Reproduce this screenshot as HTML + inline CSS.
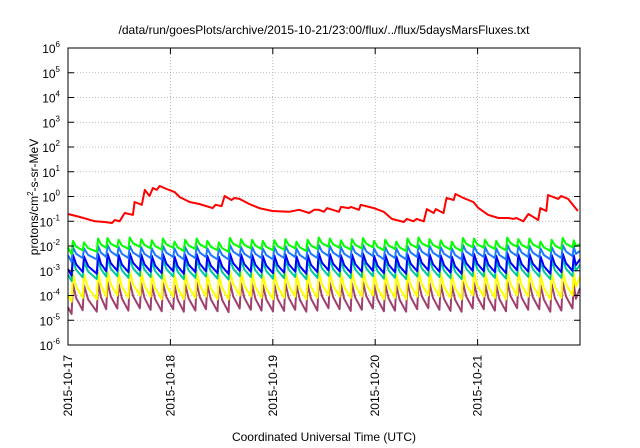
<!DOCTYPE html>
<html><head><meta charset="utf-8"><style>
body{margin:0;background:#fff;}
svg{display:block;font-family:"Liberation Sans",sans-serif;}
</style></head><body>
<svg id="chart" width="640" height="448" viewBox="0 0 640 448" xmlns="http://www.w3.org/2000/svg">
<rect width="640" height="448" fill="#fff"/>
<text x="324" y="34" font-size="12" text-anchor="middle">/data/run/goesPlots/archive/2015-10-21/23:00/flux/../flux/5daysMarsFluxes.txt</text>
<g id="grid"></g>
<g id="series"></g>
<rect x="68" y="48" width="512" height="297" fill="none" stroke="#000" stroke-width="1"/>
<g id="axes"></g>
<text transform="translate(38,197) rotate(-90)" font-size="12" text-anchor="middle">protons/cm<tspan font-size="8" dy="-5">2</tspan><tspan dy="5">-s-sr-MeV</tspan></text>
<text x="324" y="441" font-size="12" text-anchor="middle">Coordinated Universal Time (UTC)</text>
</svg>
<script>
const dayLabels=["2015-10-17","2015-10-18","2015-10-19","2015-10-20","2015-10-21"];
const yExponents=[-6,-5,-4,-3,-2,-1,0,1,2,3,4,5,6];
const redHours=[0,2.8,6.3,8.6,10.3,11,12.1,13.3,15.2,15.6,17.3,18,19.1,19.9,20.8,21.5,23.1,25,26.2,28.5,30.8,33.9,34.6,36,36.7,38.3,39,40.2,42.5,44.8,47.9,51.8,54.2,56.5,57.7,58.8,60,60.7,63.5,64,65.8,66.3,68.2,68.6,70.5,71.7,74,75.9,78.7,79.4,81,81.7,83.4,84.1,85.7,86.2,88,88.7,90.4,90.8,92.7,95,96.2,98.5,100.9,103.2,104.4,105.1,106.7,107.9,110.2,110.7,112.1,112.5,114.9,115.6,117.2,119.5];
const redValues=[0.196,0.148,0.10,0.093,0.085,0.112,0.10,0.215,0.18,0.6,0.46,1.85,1.05,2.2,1.85,2.65,2.0,1.5,0.95,0.6,0.5,0.34,0.46,0.41,1.05,0.72,0.87,0.8,0.5,0.34,0.26,0.24,0.29,0.215,0.29,0.29,0.24,0.34,0.24,0.38,0.34,0.38,0.29,0.46,0.38,0.34,0.24,0.124,0.093,0.124,0.10,0.124,0.10,0.31,0.215,0.31,0.215,0.87,0.72,1.26,0.87,0.6,0.34,0.18,0.135,0.135,0.124,0.135,0.10,0.196,0.112,0.34,0.26,1.15,0.8,1.05,0.8,0.26];
const spikeHours=[1.0,3.6,6.9,9.1,11.7,14.3,17.0,19.5,22.1,24.8,27.3,30.0,32.5,35.2,37.8,40.4,43.0,45.5,48.2,50.8,53.4,56.0,58.6,61.2,63.8,66.4,69.0,71.6,74.2,76.8,79.4,82.0,84.6,87.2,89.8,92.4,95.0,97.6,100.2,102.8,105.4,108.0,110.6,113.2,115.8,118.4];
const greenPeaks=[0.016,0.014,0.020,0.021,0.018,0.022,0.019,0.017,0.020,0.015,0.018,0.020,0.016,0.014,0.021,0.019,0.018,0.016,0.017,0.019,0.015,0.018,0.022,0.020,0.017,0.019,0.021,0.016,0.018,0.015,0.020,0.022,0.019,0.017,0.015,0.021,0.020,0.018,0.016,0.022,0.019,0.020,0.015,0.018,0.021,0.017];
const lightBluePeaks=[0.009,0.008,0.010,0.011,0.009,0.010,0.009,0.008,0.010,0.008,0.009,0.010,0.008,0.008,0.011,0.009,0.009,0.008,0.009,0.010,0.008,0.009,0.011,0.010,0.009,0.010,0.011,0.008,0.009,0.008,0.010,0.011,0.010,0.009,0.008,0.011,0.010,0.009,0.008,0.011,0.010,0.010,0.008,0.009,0.011,0.009];
const bluePeaks=[0.0045,0.0038,0.0048,0.0050,0.0044,0.0052,0.0046,0.0040,0.0048,0.0038,0.0044,0.0048,0.0040,0.0037,0.0050,0.0046,0.0044,0.0040,0.0042,0.0046,0.0038,0.0044,0.0052,0.0048,0.0042,0.0046,0.0050,0.0040,0.0044,0.0038,0.0048,0.0052,0.0046,0.0042,0.0038,0.0050,0.0048,0.0044,0.0040,0.0052,0.0046,0.0048,0.0038,0.0044,0.0050,0.0042];
const tealPeaks=[0.0027,0.0023,0.0029,0.0030,0.0026,0.0031,0.0028,0.0024,0.0029,0.0023,0.0026,0.0029,0.0024,0.0022,0.0030,0.0028,0.0026,0.0024,0.0025,0.0028,0.0023,0.0026,0.0031,0.0029,0.0025,0.0028,0.0030,0.0024,0.0026,0.0023,0.0029,0.0031,0.0028,0.0025,0.0023,0.0030,0.0029,0.0026,0.0024,0.0031,0.0028,0.0029,0.0023,0.0026,0.0030,0.0025];
const yellowPeaks=[0.0008,0.0007,0.0009,0.0010,0.0008,0.0010,0.0009,0.0007,0.0009,0.0007,0.0008,0.0009,0.0007,0.0007,0.0010,0.0009,0.0008,0.0007,0.0008,0.0009,0.0007,0.0008,0.0010,0.0009,0.0008,0.0009,0.0010,0.0007,0.0008,0.0007,0.0009,0.0010,0.0009,0.0008,0.0007,0.0010,0.0009,0.0008,0.0007,0.0010,0.0009,0.0009,0.0007,0.0008,0.0010,0.0008];
const purplePeaks=[0.00030,0.00026,0.00033,0.00035,0.00029,0.00036,0.00031,0.00027,0.00033,0.00026,0.00029,0.00033,0.00027,0.00025,0.00035,0.00031,0.00029,0.00027,0.00028,0.00031,0.00026,0.00029,0.00036,0.00033,0.00028,0.00031,0.00035,0.00027,0.00029,0.00026,0.00033,0.00036,0.00031,0.00028,0.00026,0.00035,0.00033,0.00029,0.00027,0.00036,0.00031,0.00033,0.00026,0.00029,0.00035,0.00028];
const decayRatios=[0.42,0.36,0.2,0.2,0.1,0.085];

const X0=68,X1=580,Y0=345,Y1=48,HOURS=120,LMIN=-6,LMAX=6;
const xs=h=>X0+(h/HOURS)*(X1-X0);
const ys=v=>Y0-(Math.log10(v)-LMIN)/(LMAX-LMIN)*(Y0-Y1);
const NS="http://www.w3.org/2000/svg";
function mk(tag,attrs,parent){const e=document.createElementNS(NS,tag);for(const k in attrs)e.setAttribute(k,attrs[k]);parent.appendChild(e);return e;}
const grid=document.getElementById('grid'),axes=document.getElementById('axes'),ser=document.getElementById('series');
yExponents.forEach(ex=>{
  const y=ys(Math.pow(10,ex));
  if(ex>LMIN&&ex<LMAX){const g=mk('line',{x1:X0,x2:X1,y1:y,y2:y,stroke:'#aaa','stroke-width':0.8,'stroke-dasharray':'1,2'},grid);
  
  }
  const t1=mk('line',{x1:X0,x2:X0+6,y1:y,y2:y,stroke:'#000'},axes);
  
  
  const t2=mk('line',{x1:X1-6,x2:X1,y1:y,y2:y,stroke:'#000'},axes);
  
  
  const tx=mk('text',{x:X0-8,y:y+5,'font-size':12,'text-anchor':'end'},axes);
  
  
  tx.innerHTML='10<tspan font-size="8" dy="-6">'+ex+'</tspan>';
});
dayLabels.forEach((d,i)=>{
  const x=xs(i*24);
  if(i>0){const g=mk('line',{x1:x,x2:x,y1:Y1,y2:Y0,stroke:'#aaa','stroke-width':0.8,'stroke-dasharray':'1,2'},grid);
  
  }
  const t=mk('line',{x1:x,x2:x,y1:Y0-6,y2:Y0,stroke:'#000'},axes);
  
  
  const t2=mk('line',{x1:x,x2:x,y1:Y1,y2:Y1+6,stroke:'#000'},axes);
  
  
  const tx=mk('text',{transform:'translate('+(x+4)+',355) rotate(-90)','font-size':12,'text-anchor':'end'},axes);
  
  
  tx.textContent=d;
});
const sawSeries=[[purplePeaks,'#a0406e','purple'],[yellowPeaks,'#ffff00','yellow'],[tealPeaks,'#00c8a0','teal'],[bluePeaks,'#0000ff','blue'],[lightBluePeaks,'#1e78ff','light-blue'],[greenPeaks,'#00ff00','green']];
const ratioIdx={green:0,'light-blue':1,blue:2,teal:3,yellow:4,purple:5};
sawSeries.forEach(([peaks,col,nm])=>{
  const r=decayRatios[ratioIdx[nm]];
  let pts=[[0,peaks[0]*r*1.3]];
  spikeHours.forEach((h,i)=>{
    const prevPeak=i>0?peaks[i-1]:peaks[0]*0.7;
    pts.push([h-0.15,prevPeak*r]);
    pts.push([h+0.15,peaks[i]]);
    const next=i+1<spikeHours.length?spikeHours[i+1]:HOURS;
    pts.push([h+0.15+(next-h)*0.3,peaks[i]*Math.sqrt(r)*0.9]);
  });
  pts.push([HOURS,peaks[peaks.length-1]*0.7]);
  const d=pts.filter(p=>p[0]<=HOURS).map((p,i)=>(i?'L':'M')+xs(p[0]).toFixed(1)+','+ys(p[1]).toFixed(1)).join('');
  const p=mk('path',{d:d,fill:'none',stroke:col,'stroke-width':2,'stroke-linejoin':'round'},ser);
  
  
});
const rd=redHours.map((h,i)=>(i?'L':'M')+xs(h).toFixed(1)+','+ys(redValues[i]).toFixed(1)).join('');
const rp=mk('path',{d:rd,fill:'none',stroke:'#ff0000','stroke-width':2,'stroke-linejoin':'round'},ser);


</script>
</body></html>
